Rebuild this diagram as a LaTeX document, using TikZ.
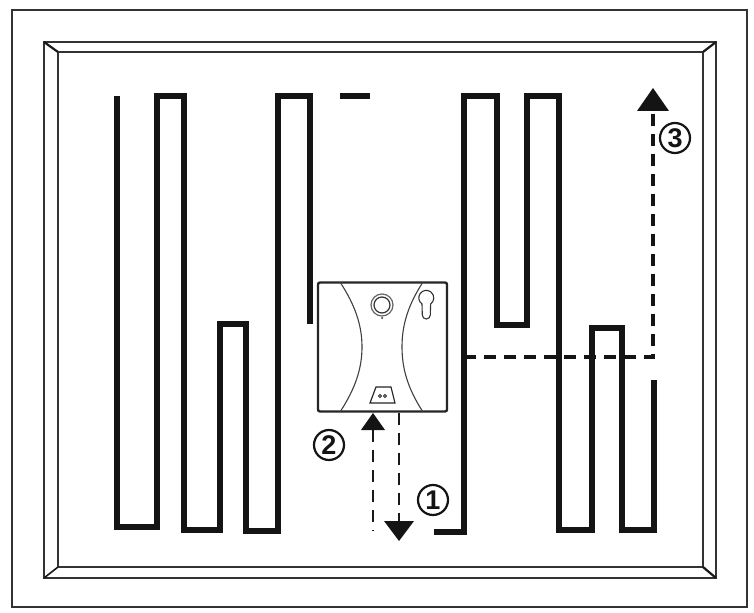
\documentclass[tikz,border=0pt]{standalone}
\usepackage{fontspec}
\setmainfont{Liberation Sans}
\begin{document}
\begin{tikzpicture}[x=1bp,y=-1bp,
  frameline/.style={draw=black!80,line width=1.6bp},
  track/.style={draw=black!92,line width=6bp,line cap=butt,miter limit=10},
  devline/.style={draw=black!75,line width=1.1bp},
  devbox/.style={draw=black!85,line width=2.4bp,rounded corners=2bp},
  thindash/.style={draw=black!90,line width=1.8bp,dash pattern=on 12bp off 8bp},
  thickdash/.style={draw=black!92,line width=3.4bp,dash pattern=on 12bp off 8bp},
  headfill/.style={fill=black!92,draw=none},
  num/.style={circle,draw=black!92,line width=2.2bp,minimum size=30bp,inner sep=0pt,font=\bfseries\fontsize{27bp}{27bp}\selectfont,text=black!92}]
\useasboundingbox (0,0) rectangle (754,613);
\fill[white] (0,0) rectangle (754,613);
% frames
\draw[frameline] (12,10) rectangle (747,607);
\draw[frameline] (44,42) rectangle (716,578);
\draw[frameline] (58,52) rectangle (703,567);
\draw[black!90,line width=2.2bp] (44,42) -- (58,52);
\draw[black!90,line width=2.2bp] (716,42) -- (703,52);
\draw[black!90,line width=1.6bp] (44,578) -- (58,567);
\draw[black!90,line width=2.2bp] (716,578) -- (703,567);
% tracks
\draw[track] (117,96) -- (117,527) -- (157,527) -- (157,96) -- (184,96) -- (184,530) -- (220,530) -- (220,324) -- (246,324) -- (246,531) -- (278,531) -- (278,96) -- (310,96) -- (310,324);
\draw[track] (340,96) -- (370,96);
\draw[track] (434,532) -- (464,532) -- (464,96) -- (497,96) -- (497,325) -- (527,325) -- (527,96) -- (559,96) -- (559,530) -- (592,530) -- (592,328) -- (622,328) -- (622,530) -- (654,530) -- (654,380);
% device
\node[devbox,fill=white,minimum width=129bp,minimum height=129bp,inner sep=0pt] (dev) at (382.5,347) {};
\draw[devline] (340,282) .. controls (355,305) and (362,325) .. (362,347) .. controls (362,369) and (355,389) .. (340,412);
\draw[devline] (423,282) .. controls (408,305) and (402,325) .. (402,347) .. controls (402,369) and (408,389) .. (423,412);
\draw[black!60,line width=1.2bp] (382,305) circle (11bp);
\draw[black!80,line width=1.2bp] (382,305) circle (8bp);
\fill[black!85] (382,318) circle (1bp);
\draw[black!80,line width=1.1bp] (422,304) arc[start angle=235,end angle=-55,radius=7.5bp] -- (430.3,315) arc[start angle=0,end angle=-180,radius=4bp] -- cycle;
\draw[black!85,line width=1.2bp] (370,403) -- (376,387) -- (391,387) -- (395,403) -- cycle;
\draw[black!85,line width=0.9bp] (380,396) circle (1.6bp) (385,396) circle (1.6bp);
% arrows
\coordinate (a2s) at (373,531);
\coordinate (a2e) at (373,430);
\coordinate (a1e) at (399,522);
\coordinate (a3a) at (464,357);
\coordinate (a3b) at (653,357);
\coordinate (a3c) at (653,111);
\draw[thindash] (a2e) -- (a2s);
\draw[thindash] (dev.south -| a1e) -- (a1e);
\draw[thickdash] (a3a) -- (a3b) -- (a3c);
\fill[headfill] (373,413) -- (385,430) -- (361,430) -- cycle;
\fill[headfill] (399,541) -- (384,521) -- (414,521) -- cycle;
\fill[headfill] (653,88) -- (669,111) -- (637,111) -- cycle;
\node[num] (n1) at (433,500) {1};
\node[num] (n2) at (329,445) {2};
\node[num] (n3) at (675,138) {3};
\end{tikzpicture}
\end{document}
